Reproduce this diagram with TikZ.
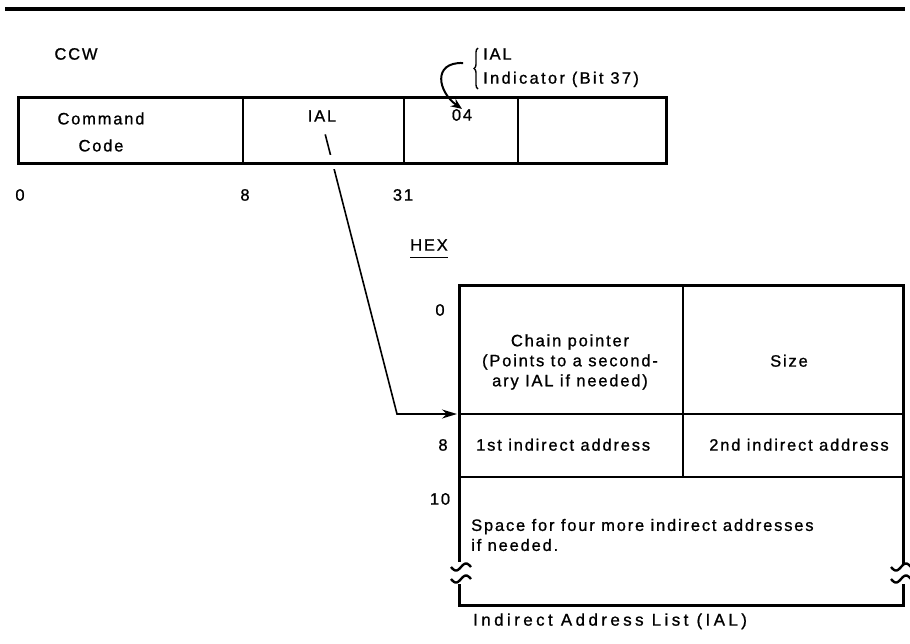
\documentclass[tikz,border=0pt]{standalone}
\usepackage{fontspec}
\setmainfont{Liberation Sans}[LetterSpace=11, FakeBold=1]
\usetikzlibrary{arrows.meta, positioning, decorations.pathreplacing, backgrounds}

\begin{document}
\begin{tikzpicture}[x=1pt, y=-1pt, font=\fontsize{16.5}{27}\selectfont,
  lbl/.style={inner sep=0pt, anchor=mid},
  frame/.style={line width=3pt},
  rule/.style={line width=2.2pt}]
  \useasboundingbox (0,0) rectangle (910,643);

  % heading rule
  \draw[line width=3.2pt] (5,9) -- (905,9);

  % CCW word
  \node[lbl] (ccw) at (76,57) {CCW};
  \draw[frame] (18,97) rectangle (666,163);
  \draw[rule] (243,97) -- (243,163) (404,97) -- (404,163) (518,97) -- (518,163);
  \node[lbl, align=center, anchor=center] (cmd) at (101,132) {Command\\Code};
  \node[lbl] (ial) at (322,119) {IAL};
  \node[lbl] (flag) at (462,118) {04};

  % bit positions
  \node[lbl] (b0) at (20,198) {0};
  \node[lbl] (b8) at (245,198) {8};
  \node[lbl] (b31) at (403,198) {31};

  % IAL flag note
  \draw[decorate, decoration={brace, amplitude=4pt}, line width=1.4pt] (478,89) -- (478,48);
  \node[lbl, anchor=mid west] (flagname) at (483,57) {IAL};
  \node[lbl, anchor=mid west, font=\fontsize{16.5}{27}\addfontfeature{LetterSpace=14}] (flagbit) at (483,81) {Indicator (Bit 37)};
  \coordinate (flagfrom) at (463,63);
  \draw[line width=2pt, -{Stealth[length=11pt, width=9pt]}]
  (flagfrom) .. controls (432,62) and (438,92) .. (flag.north);

  % HEX offsets
  \node[lbl] (hex) at (429,248) {HEX};
  \draw[line width=1.2pt] ([yshift=-7pt]hex.south west) -- ([yshift=-7pt]hex.south east);
  \node[lbl] (h0) at (440,313) {0};
  \node[lbl] (h8) at (443,448) {8};
  \node[lbl] (h10) at (440,502) {10};

  % indirect address list
  \draw[frame] (459,562) -- (459,285) -- (903,285) -- (903,564);
  \draw[frame] (459,584) -- (459,605) -- (903,605) -- (903,584);
  \draw[rule] (459,414) -- (903,414) (459,477) -- (903,477) (683,285) -- (683,477);
  \foreach \cx in {461,901}
    \foreach \cy in {567,579}
      \draw[line width=2.4pt] plot[domain=-10:10, samples=25] ({\cx+\x}, {\cy-3.5*sin(\x*18)});

  \node[lbl, align=center, anchor=center, font=\fontsize{16.5}{20}\selectfont] (chain) at (570,362)
    {Chain pointer\\(Points to a second-\\ary IAL if needed)};
  \node[lbl] (size) at (789,364) {Size};
  \node[lbl, anchor=mid west] (addr1) at (476,448) {1st indirect address};
  \node[lbl] (addr2) at (799,448) {2nd indirect address};
  \node[lbl, align=left, anchor=west, font=\fontsize{16.5}{20}\selectfont] (spare) at (471,535)
    {Space for four more indirect addresses\\if needed.};
  \node[lbl, anchor=mid west, font=\fontsize{17}{27}\addfontfeature{LetterSpace=20}] (caption) at (473,623) {Indirect Address List (IAL)};

  % pointer from CCW to list
  \coordinate (listtop) at (457,414);
  \begin{scope}[on background layer]
    \draw[line width=1.6pt, -{Stealth[length=15pt, width=9pt]}, shorten <=13pt]
    (ial.south) -- (397,414) -- (listtop);
    \fill[white] (316,155) rectangle (340,169);
  \end{scope}
\end{tikzpicture}
\end{document}
